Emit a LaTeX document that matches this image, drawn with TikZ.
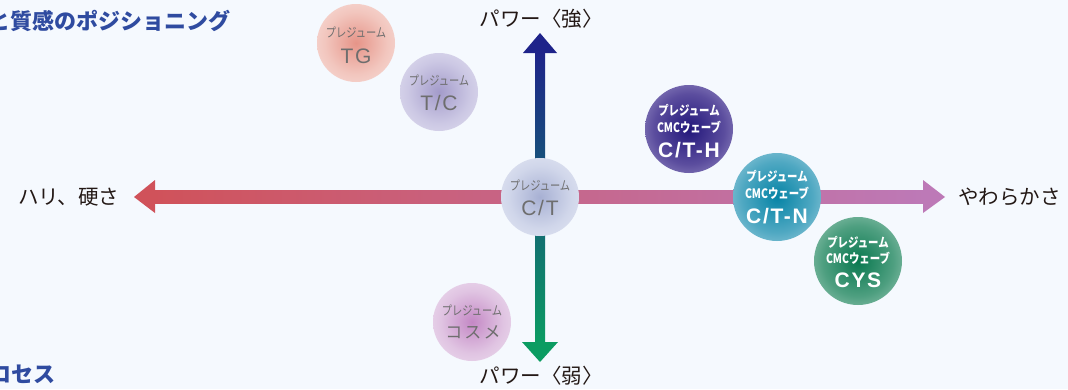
\documentclass[tikz,border=0pt]{standalone}
\usepackage{fontspec}
\setmainfont{Noto Sans CJK JP}
\newfontfamily\lat{Liberation Sans}[LetterSpace=8]
\newfontfamily\jpsp{Noto Sans CJK JP}[LetterSpace=12]
\newfontfamily\jpc{Noto Sans CJK JP}[FakeStretch=0.8]
\definecolor{bg}{HTML}{F5F9FE}
\definecolor{ink}{HTML}{231815}
\definecolor{greytxt}{HTML}{6E6E6E}
\definecolor{titleblue}{HTML}{2F4BA0}
\definecolor{navyA}{HTML}{1E238A}
\definecolor{tealM}{HTML}{0A6E88}
\definecolor{greenB}{HTML}{0B9C62}
\definecolor{redA}{HTML}{D0525A}
\definecolor{orchid}{HTML}{BD79B7}
\definecolor{blobin}{HTML}{FFFFFF}
\definecolor{blobmid}{HTML}{FFFFFF}
\definecolor{blobedge}{HTML}{FFFFFF}
\pgfdeclareradialshading[blobin,blobmid,blobedge]{blob}{\pgfpoint{0bp}{0bp}}{color(0bp)=(blobin); color(20bp)=(blobmid); color(42bp)=(blobedge); color(50bp)=(bg)}
\tikzset{
  blob/.style n args={3}{circle, inner sep=0pt, draw=none,
    /utils/exec={\definecolor{blobin}{HTML}{#1}\definecolor{blobmid}{HTML}{#2}\definecolor{blobedge}{HTML}{#3}},
    shade, shading=blob},
  sblob/.style={minimum size=78pt},
  lblob/.style={minimum size=88pt},
  small/.style={font=\jpc\fontsize{12.8}{14}\selectfont, text=greytxt, inner sep=0pt},
  big/.style={font=\lat\fontsize{21}{24}\selectfont, text=greytxt, inner sep=0pt},
  wsmall/.style={font=\jpc\bfseries\fontsize{13}{14}\selectfont, text=white, inner sep=0pt},
  wbig/.style={font=\lat\bfseries\fontsize{21}{24}\selectfont, text=white, inner sep=0pt},
  axislabel/.style={font=\fontsize{20.5}{24}\selectfont, text=ink, inner sep=0pt},
  title/.style={font=\bfseries\fontsize{22}{26}\selectfont, text=titleblue, inner sep=0pt},
}
\begin{document}
\begin{tikzpicture}[x=1pt,y=-1pt]
\useasboundingbox (0,0) rectangle (1068,389);
\clip (0,0) rectangle (1068,389);
\fill[bg] (0,0) rectangle (1068,389);

% axes
\coordinate (ntip) at (540,33);
\coordinate (stip) at (540,362);
\coordinate (wtip) at (134,197);
\coordinate (etip) at (945,197);
\shade[top color=navyA, middle color=tealM, bottom color=greenB] (535,50) rectangle (545,344);
\fill[navyA] (ntip) -- (557,53) -- (523,53) -- cycle;
\fill[greenB] (stip) -- (558,342) -- (522,342) -- cycle;
\shade[left color=redA, right color=orchid] (153,190.5) rectangle (925,203);
\fill[redA] (wtip) -- (155,180) -- (155,213) -- cycle;
\fill[orchid] (etip) -- (923,180) -- (923,213) -- cycle;

% axis labels
\node[axislabel] (strong) at (541,19) {パワー〈強〉};
\node[axislabel] (weak) at (541,376) {パワー〈弱〉};
\node[axislabel, anchor=west] (hard) at (18,197) {ハリ、硬さ};
\node[axislabel, anchor=west] (soft) at (958,197) {やわらかさ};

% titles (partial, cut by the frame as in the source)
\node[title, anchor=east] (ttl) at (231,21) {と質感のポジショニング};
\node[title, anchor=east] (ttl2) at (56,374) {ロセス};

% pale blobs
\node[blob={E69488}{F2C6BE}{FAEAE7}, sblob] (tg) at (356,43) {};
\node[small] (tg1) at (356,32) {プレジューム};
\node[big] (tg2) at (356,56) {TG};

\node[blob={A39BCA}{CCC8E4}{ECEBF6}, sblob] (tc) at (439,92) {};
\node[small] (tc1) at (439,80) {プレジューム};
\node[big] (tc2) at (439,103) {T/C};

\node[blob={A7B0D3}{D0D6EA}{EDF0F8}, sblob] (ct) at (540,197) {};
\node[small] (ct1) at (540,185) {プレジューム};
\node[big] (ct2) at (540,208) {C/T};

\node[blob={C488C5}{E0C4E2}{F4ECF6}, sblob] (cosme) at (472,322) {};
\node[small] (co1) at (472,310) {プレジューム};
\node[font=\jpsp\fontsize{17}{20}\selectfont, text=greytxt, inner sep=0pt] (co2) at (473,332) {コスメ};

% strong blobs
\node[blob={22167A}{5B4D9E}{BCB4DC}, lblob] (cth) at (689,129) {};
\node[wsmall] (cth1) at (689,110) {プレジューム};
\node[wsmall] (cth2) at (689,127) {CMCウェーブ};
\node[wbig] (cth3) at (689,150) {C/T-H};

\node[blob={0684A6}{4FA8C2}{C2E0EB}, lblob] (ctn) at (777,197) {};
\node[wsmall] (ctn1) at (777,176) {プレジューム};
\node[wsmall] (ctn2) at (777,193) {CMCウェーブ};
\node[wbig] (ctn3) at (777,216) {C/T-N};

\node[blob={09784F}{4E9F80}{C0DED0}, lblob] (cys) at (858,261) {};
\node[wsmall] (cys1) at (858,242) {プレジューム};
\node[wsmall] (cys2) at (858,258) {CMCウェーブ};
\node[wbig] (cys3) at (858,280) {CYS};
\end{tikzpicture}
\end{document}
